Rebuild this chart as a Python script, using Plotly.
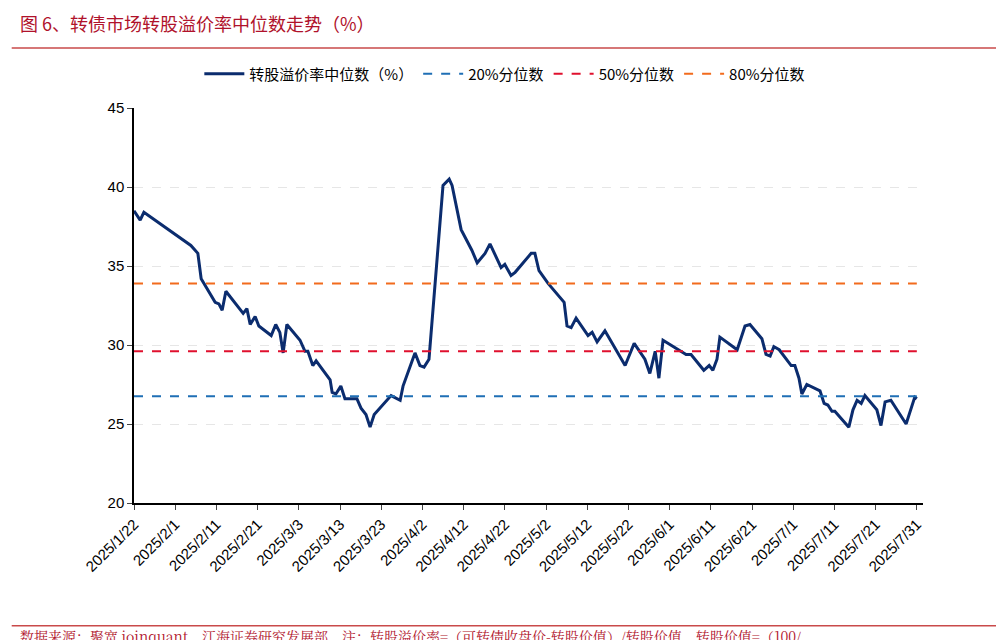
import plotly.graph_objects as go
import pandas as pd

start_date = "2025-01-22"
day_offsets = [0,1.5,2.4,13.8,15.5,16.3,19.7,20.6,21.4,22.3,26.5,27.4,28.2,29.4,30.3,33.3,34.4,35.4,36.2,37.1,
               40.3,41.5,42.2,43.4,44.2,47.6,48.1,49.0,50.2,51.2,54.1,55.1,56.3,57.3,58.3,62.4,64.6,65.3,68.2,69.4,
               70.4,71.6,75.0,76.5,77.2,79.4,82.0,83.3,85.2,86.4,89.1,90.0,91.5,92.5,96.4,97.3,98.3,100.5,104.4,105.1,
               106.1,107.3,110.2,111.2,112.4,114.3,119.2,121.4,124.0,125.2,126.5,127.4,128.4,132.5,134.0,135.2,138.3,139.6,140.5,141.5,
               142.2,146.4,148.3,149.5,152.4,153.4,154.4,155.3,156.6,159.5,160.4,161.4,162.1,163.3,166.5,167.5,168.4,169.4,170.1,173.5,
               174.5,175.5,176.5,177.4,180.3,181.3,182.3,183.7,187.4,189.5,190]
premium = [38.5,37.9,38.4,36.3,35.8,34.2,32.7,32.6,32.2,33.4,32.0,32.3,31.3,31.8,31.2,30.6,31.3,30.8,29.5,31.3,
           30.3,29.6,29.6,28.7,29.0,27.8,27.0,26.9,27.4,26.6,26.6,26.0,25.6,24.8,25.6,26.8,26.5,27.4,29.5,28.7,
           28.6,29.1,40.1,40.5,40.1,37.3,36.0,35.2,35.8,36.4,34.9,35.1,34.4,34.6,35.8,35.8,34.7,33.9,32.7,31.2,
           31.1,31.7,30.6,30.8,30.2,30.9,28.7,30.1,29.1,28.2,29.6,27.9,30.3,29.6,29.4,29.4,28.4,28.7,28.4,29.1,
           30.5,29.7,31.2,31.3,30.4,29.4,29.3,29.9,29.7,28.7,28.7,27.9,26.9,27.5,27.1,26.3,26.2,25.8,25.8,24.8,
           25.9,26.5,26.3,26.8,25.9,24.9,26.4,26.5,25.0,26.7,26.6]
p20, p50, p80 = 26.75, 29.6, 33.9
tick_dates = pd.date_range(start_date, "2025-07-31", freq="10D")
tick_labels = [f"{d.year}/{d.month}/{d.day}" for d in tick_dates]

dates = pd.Timestamp(start_date) + pd.to_timedelta(day_offsets, unit="D")
x0, x1 = dates[0], dates[-1]
xr1 = x1 + pd.Timedelta(days=1.5)

fig = go.Figure()
fig.add_trace(go.Scatter(x=dates, y=premium, mode="lines", name="转股溢价率中位数（%）",
                         line=dict(color="#0B2C6E", width=3)))
for name, v, c in [("20%分位数", p20, "#1F6FB5"), ("50%分位数", p50, "#E0102E"), ("80%分位数", p80, "#F26B1D")]:
    fig.add_trace(go.Scatter(x=[x0, x1], y=[v, v], mode="lines", name=name,
                             line=dict(color=c, width=2, dash="dash")))

fig.update_layout(
    width=1004, height=640, paper_bgcolor="white", plot_bgcolor="white",
    margin=dict(l=126, r=89, t=100, b=145, autoexpand=False),
    font=dict(family="Noto Sans CJK SC", size=14, color="black"),
    legend=dict(orientation="h", x=0.47, xanchor="center", y=1.086, yanchor="middle",
                bgcolor="rgba(0,0,0,0)",
                font=dict(size=15, family="Noto Sans CJK SC"), itemwidth=40),
    xaxis=dict(range=[x0, xr1], tickvals=tick_dates, ticktext=tick_labels, tickangle=-45,
               showgrid=False, showline=True, linecolor="black", linewidth=1.5, automargin=False,
               ticks="outside", ticklen=5, tickfont=dict(size=15, family="Arial")),
    yaxis=dict(range=[20, 45], dtick=5, showgrid=True, gridcolor="#E6E6E6", griddash="dash",
               showline=True, linecolor="black", linewidth=1.5, ticks="outside", ticklen=5, automargin=False,
               tickfont=dict(size=15, family="Arial"), zeroline=False),
    shapes=[dict(type="line", xref="paper", yref="paper", x0=-0.155, x1=1.1, y0=1.152, y1=1.152,
                 line=dict(color="#C94A4A", width=1.5)),
            dict(type="line", xref="paper", yref="paper", x0=-0.155, x1=1.1, y0=-0.311, y1=-0.311,
                 line=dict(color="#C94A4A", width=1.5))],
    annotations=[
        dict(text="图 6、转债市场转股溢价率中位数走势（%）", xref="paper", yref="paper", x=-0.147, y=1.215,
             xanchor="left", yanchor="middle", showarrow=False,
             font=dict(size=18, color="#B0122B", family="Noto Sans CJK SC")),
        dict(text="数据来源：聚宽 joinquant，江海证券研究发展部，注：转股溢价率=（可转债收盘价-转股价值）/转股价值，转股价值=（100/",
             xref="paper", yref="paper", x=-0.147, y=-0.337, xanchor="left", yanchor="middle", showarrow=False,
             font=dict(size=14, color="#B0122B", family="Noto Serif CJK SC, Noto Sans CJK SC")),
    ],
)
fig.write_html("out.html")
